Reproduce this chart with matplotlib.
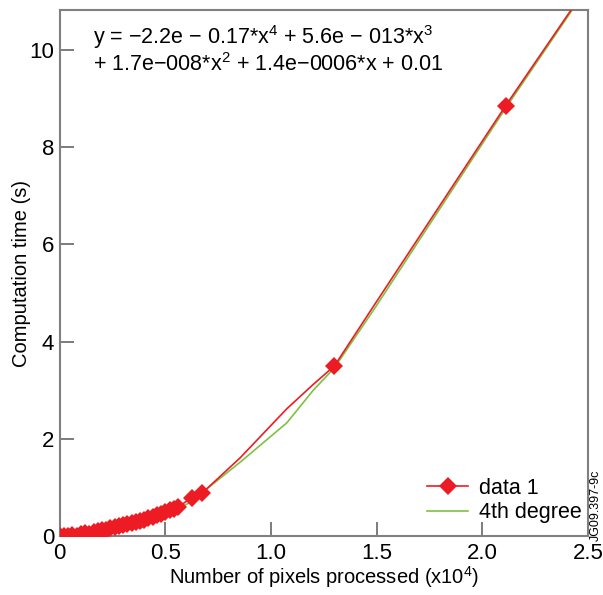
import matplotlib.pyplot as plt
import numpy as np

plt.rcParams['font.family'] = ['Liberation Sans', 'DejaVu Sans']
plt.rcParams['mathtext.fontset'] = 'custom'
plt.rcParams['mathtext.rm'] = 'Liberation Sans'
plt.rcParams['mathtext.it'] = 'Liberation Sans'

# measured data (x in units of 1e4 pixels, y in seconds)
data_x = [0.0, 0.02, 0.04, 0.06, 0.08, 0.10, 0.12, 0.14, 0.16, 0.18, 0.20,
          0.22, 0.24, 0.26, 0.28, 0.30, 0.32, 0.34, 0.36, 0.38, 0.40, 0.42,
          0.44, 0.46, 0.48, 0.50, 0.52, 0.54, 0.56, 0.626, 0.673,
          0.854, 1.075, 1.20, 1.30, 1.49, 2.11, 2.50]
data_y = [0.01, 0.01, 0.01, 0.02, 0.01, 0.04, 0.06, 0.05, 0.08, 0.10, 0.12,
          0.13, 0.17, 0.19, 0.21, 0.23, 0.24, 0.26, 0.29, 0.31, 0.34, 0.37,
          0.40, 0.43, 0.46, 0.49, 0.53, 0.56, 0.60, 0.79, 0.88,
          1.61, 2.62, 3.12, 3.50, 4.76, 8.85, 11.33]
# markers are only drawn on these samples
marker_idx = list(range(29)) + [29, 30, 34, 36]

# 4th degree fit evaluated at the same x
fit_y = [0.01, 0.01, 0.02, 0.02, 0.03, 0.04, 0.05, 0.06, 0.07, 0.08, 0.10,
         0.11, 0.13, 0.14, 0.16, 0.18, 0.20, 0.23, 0.25, 0.27, 0.30, 0.33,
         0.36, 0.39, 0.42, 0.46, 0.49, 0.53, 0.57, 0.71, 0.89,
         1.52, 2.33, 3.00, 3.46, 4.68, 8.80, 11.30]

fig = plt.figure(figsize=(6.03, 5.95), dpi=100)
ax = fig.add_axes([0.099, 0.099, 0.876, 0.884])

red = '#ED1C24'
green = '#7DC242'
ax.plot(data_x, fit_y, '-', color=green, lw=1.2, label='4th degree', zorder=2)
ax.plot(data_x, data_y, '-', color=red, lw=1.2, marker='D', markersize=9,
        markevery=marker_idx, markeredgewidth=0, label='data 1', zorder=3)

ax.set_xlim(0, 2.5)
ax.set_ylim(0, 10.82)
ax.set_xticks([0, 0.5, 1.0, 1.5, 2.0, 2.5])
ax.set_xticklabels(['0', '0.5', '1.0', '1.5', '2.0', '2.5'])
ax.set_yticks([0, 2, 4, 6, 8, 10])
ax.tick_params(direction='in', length=10, width=1.2, color='#666666',
               labelsize=16)
ax.tick_params(axis='x', pad=5)
ax.tick_params(axis='y', pad=4)
for s in ax.spines.values():
    s.set_color('#808080')
    s.set_linewidth(1.5)

ax.set_xlabel('Number of pixels processed (x10$^4$)', fontsize=14.5, labelpad=0)
ax.set_ylabel('Computation time (s)', fontsize=14.5, labelpad=-1)

ax.text(0.063, 0.975, 'y = \u22122.2e \u2212 0.17*x$^4$ + 5.6e \u2212 013*x$^3$',
        transform=ax.transAxes, fontsize=15.5, va='top')
ax.text(0.063, 0.918, '+ 1.7e\u2212008*x$^2$ + 1.4e\u22120006*x + 0.01',
        transform=ax.transAxes, fontsize=15.5, va='top')

h, l = ax.get_legend_handles_labels()
ax.legend(h[::-1], l[::-1], loc='lower right', frameon=False, fontsize=15.5,
          handlelength=1.9, handletextpad=0.5, bbox_to_anchor=(1.013, 0.0),
          borderaxespad=0.2, labelspacing=0.15)

fig.text(0.988, 0.09, 'JG09.397-9c', rotation=90, fontsize=9,
         ha='center', va='bottom')

fig.savefig('out.png', dpi=100)
